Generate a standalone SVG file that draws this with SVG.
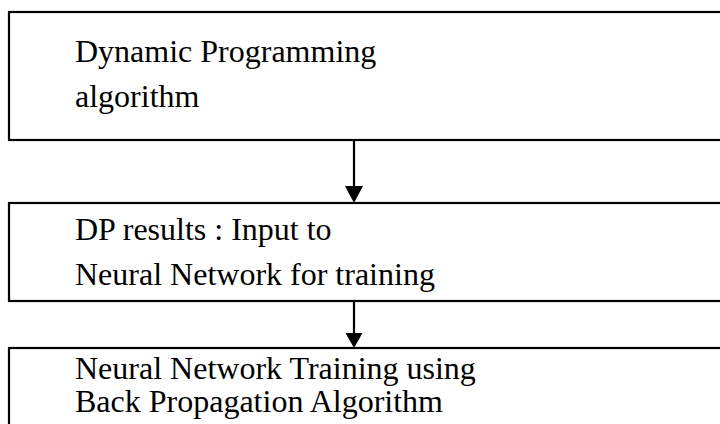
<svg xmlns="http://www.w3.org/2000/svg" width="720" height="424" viewBox="0 0 720 424">
<style>
.box{fill:#fff;stroke:#000;stroke-width:2.2}
.t{font-family:"Liberation Serif","Times New Roman",serif;font-size:32px;fill:#000}
.c{stroke:#000;stroke-width:2.2;fill:none}
</style>
<rect width="720" height="424" fill="#fff"/>
<g id="n1">
<rect class="box" x="9" y="12" width="730" height="128"/>
<text class="t" x="75" y="62">Dynamic Programming</text>
<text class="t" x="75" y="107">algorithm</text>
</g>
<g id="n2">
<rect class="box" x="9" y="203" width="730" height="98"/>
<text class="t" x="75" y="240">DP results : Input to</text>
<text class="t" x="75" y="285">Neural Network for training</text>
</g>
<g id="n3">
<rect class="box" x="9" y="348" width="730" height="100"/>
<text class="t" x="75" y="379">Neural Network Training using</text>
<text class="t" x="75" y="412">Back Propagation Algorithm</text>
</g>
<g id="connectors">
<line class="c" x1="354" y1="140" x2="354" y2="187"/>
<path d="M345,186 L363,186 L354,203 Z" fill="#000"/>
<line class="c" x1="354" y1="301" x2="354" y2="334"/>
<path d="M345.5,333 L362.5,333 L354,348 Z" fill="#000"/>
</g>
</svg>
